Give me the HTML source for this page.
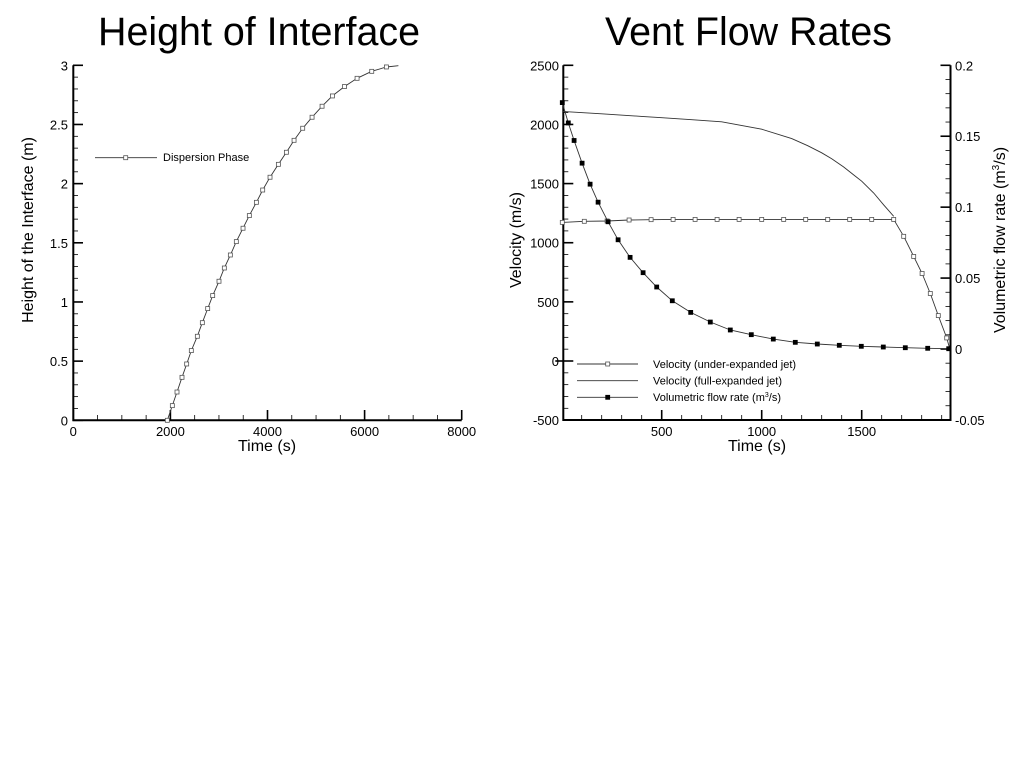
<!DOCTYPE html>
<html><head><meta charset="utf-8"><style>
body{margin:0;background:#fff;width:1024px;height:768px;overflow:hidden}
svg text{font-family:"Liberation Sans",Arial,sans-serif;fill:#000}
</style></head><body>
<svg id="s" width="1024" height="768" viewBox="0 0 1024 768">
<text x="98" y="45" font-size="40" textLength="322" lengthAdjust="spacingAndGlyphs">Height of Interface</text>
<text x="605" y="45" font-size="40" textLength="287" lengthAdjust="spacingAndGlyphs">Vent Flow Rates</text>
</svg>
<script>
// Left chart data
const hTimes=[1937,2040,2136,2239,2335,2431,2555,2658,2768,2871,3001,3111,3235,3358,3496,3626,3771,3901,4052,4224,4389,4547,4725,4918,5124,5337,5584,5845,6147,6449];
const hValues=[0,0.124,0.239,0.363,0.476,0.589,0.710,0.825,0.944,1.054,1.175,1.287,1.397,1.510,1.623,1.730,1.842,1.946,2.054,2.163,2.265,2.366,2.468,2.561,2.654,2.741,2.820,2.890,2.949,2.986];
const hEnd=[6696,2.997];
const hXTicks=[0,2000,4000,6000,8000];
const hYTicks=[0,0.5,1,1.5,2,2.5,3];
// Right chart data
const uTimes=[3,113,227,337,447,557,667,777,887,1000,1110,1220,1330,1440,1550,1660,1710,1760,1802,1843,1883,1925];
const uValues=[1172,1181,1184,1192,1195,1197,1197,1197,1197,1197,1197,1197,1197,1197,1197,1197,1054,884,740,571,384,195];
const fTimes=[3,200,400,500,650,800,1000,1150,1230,1300,1350,1410,1470,1500,1560,1610,1660];
const fValues=[2110,2090,2068,2057,2040,2022,1960,1880,1820,1760,1710,1640,1560,1520,1420,1320,1223];
const qTimes=[3,33,62,102,142,182,232,282,342,407,475,553,645,743,843,948,1058,1168,1278,1388,1498,1608,1718,1830,1935];
const qValues=[0.1737,0.1594,0.147,0.131,0.1162,0.1035,0.0897,0.077,0.0646,0.0538,0.0437,0.034,0.0258,0.019,0.0134,0.0101,0.007,0.0047,0.0035,0.0026,0.0019,0.0014,0.0009,0.0005,0.0002];
const rXTicks=[500,1000,1500];
const rYTicks=[-500,0,500,1000,1500,2000,2500];
const rY2Ticks=[-0.05,0,0.05,0.1,0.15,0.2];
const rY2Labels=["-0.05","0","0.05","0.1","0.15","0.2"];

const S=document.getElementById('s');
const M=4;
function el(tag,attrs,txt){const e=document.createElementNS('http://www.w3.org/2000/svg',tag);for(const k in attrs)e.setAttribute(k,attrs[k]);if(txt!==undefined)e.textContent=txt;S.appendChild(e);return e;}
function lin(d0,d1,p0,p1){return v=>p0+(v-d0)/(d1-d0)*(p1-p0);}
function path(xs,ys,fx,fy,name){let d='';xs.forEach((t,i)=>{d+=(i?'L':'M')+fx(t).toFixed(1)+' '+fy(ys[i]).toFixed(1);});const e=el('path',{d:d,fill:'none',stroke:'#333','stroke-width':0.9});

}
function markers(xs,ys,fx,fy,filled,name){xs.forEach((t,i)=>{const e=el('rect',{x:fx(t)-M/2,y:fy(ys[i])-M/2,width:M,height:M,fill:filled?'#000':'#fff',stroke:filled?'#000':'#555','stroke-width':0.8});

});}

// ---- Left chart
const lx=lin(0,8000,73.3,461.7), ly=lin(0,3,420.3,65.3);
const la=el('path',{d:'M73.3 65.3V420.3H461.7',fill:'none',stroke:'#000','stroke-width':2});


for(let v=0;v<=8000;v+=500){const big=v%2000===0;el('line',{x1:lx(v),x2:lx(v),y1:420,y2:420-(big?10:5),stroke:'#000','stroke-width':big?1.6:0.8});}
for(let k=0;k<=30;k++){const v=k/10,big=k%5===0;el('line',{x1:73,x2:73+(big?10:5),y1:ly(v),y2:ly(v),stroke:'#000','stroke-width':big?1.6:0.8});}
hXTicks.forEach(v=>{const t=el('text',{x:lx(v),y:436,'font-size':13,'text-anchor':'middle'},String(v));

});
hYTicks.forEach(v=>{const t=el('text',{x:68,y:ly(v)+5,'font-size':13,'text-anchor':'end'},String(v));

});
let t1=el('text',{x:267,y:451,'font-size':16,'text-anchor':'middle'},'Time (s)');


let t2=el('text',{x:0,y:0,'font-size':16,'text-anchor':'middle',transform:'translate(33,230) rotate(-90)'},'Height of the Interface (m)');


path(hTimes.concat([hEnd[0]]),hValues.concat([hEnd[1]]),lx,ly,'dispersion-phase-line');
markers(hTimes,hValues,lx,ly,false,'dispersion-phase-marker');
el('line',{x1:95,x2:157,y1:157.7,y2:157.7,stroke:'#333','stroke-width':0.9});
el('rect',{x:125.7-M/2,y:157.7-M/2,width:M,height:M,fill:'#fff',stroke:'#555','stroke-width':0.8});
let lg=el('text',{x:163,y:161,'font-size':11},'Dispersion Phase');



// ---- Right chart
const rx=lin(0,500,561.7,661.7), ry=lin(0,2500,361,65.3), ry2=lin(0,0.2,349,65.3);
const X0=563.3,X1=950.5,Y0=65.3,Y1=420;
const ra=el('path',{d:`M${X0} ${Y0}V${Y1}H${X1}V${Y0}`,fill:'none',stroke:'#000','stroke-width':2});


for(let v=100;v<=1900;v+=100){const big=v%500===0;el('line',{x1:rx(v),x2:rx(v),y1:Y1,y2:Y1-(big?10:5),stroke:'#000','stroke-width':big?1.6:0.8});}
for(let v=-500;v<=2500;v+=100){const big=v%500===0;el('line',{x1:X0,x2:X0+(big?10:5),y1:ry(v),y2:ry(v),stroke:'#000','stroke-width':big?1.6:0.8});
if(v===0)el('line',{x1:X0-8,x2:X0,y1:ry(v),y2:ry(v),stroke:'#000','stroke-width':1.6});}
for(let k=-5;k<=20;k++){const v=k/100,big=k%5===0;el('line',{x1:X1,x2:X1-(big?10:5),y1:ry2(v),y2:ry2(v),stroke:'#000','stroke-width':big?1.6:0.8});}
rXTicks.forEach(v=>{const t=el('text',{x:rx(v),y:436,'font-size':13,'text-anchor':'middle'},String(v));

});
rYTicks.forEach(v=>{const t=el('text',{x:559,y:ry(v)+5,'font-size':13,'text-anchor':'end'},String(v));

});
rY2Ticks.forEach((v,i)=>{const t=el('text',{x:955,y:ry2(v)+5,'font-size':13},rY2Labels[i]);

});
let t3=el('text',{x:757,y:451,'font-size':16,'text-anchor':'middle'},'Time (s)');


let t4=el('text',{x:0,y:0,'font-size':16,'text-anchor':'middle',transform:'translate(521,240) rotate(-90)'},'Velocity (m/s)');


let t5=el('text',{x:0,y:0,'font-size':16,'text-anchor':'middle',transform:'translate(1005,240) rotate(-90)'});
t5.innerHTML='Volumetric flow rate (m<tspan dy="-6" font-size="10">3</tspan><tspan dy="6">/s)</tspan>';


path(fTimes,fValues,rx,ry,'full-expanded-line');
path(uTimes.concat([1941]),uValues.concat([100]),rx,ry,'under-expanded-line');
markers(uTimes,uValues,rx,ry,false,'under-expanded-marker');
path(qTimes,qValues,rx,ry2,'flow-rate-line');
markers(qTimes,qValues,rx,ry2,true,'flow-rate-marker');
[364,380.7,397.3].forEach(y=>{el('line',{x1:577,x2:638,y1:y,y2:y,stroke:'#333','stroke-width':0.9});});
el('rect',{x:607.7-M/2,y:364-M/2,width:M,height:M,fill:'#fff',stroke:'#555','stroke-width':0.8});
el('rect',{x:607.7-M/2,y:397.3-M/2,width:M,height:M,fill:'#000',stroke:'#000','stroke-width':0.8});
let a=el('text',{x:653,y:368,'font-size':11},'Velocity (under-expanded jet)');


let b=el('text',{x:653,y:384.5,'font-size':11},'Velocity (full-expanded jet)');


let c=el('text',{x:653,y:401,'font-size':11});
c.innerHTML='Volumetric flow rate (m<tspan dy="-4" font-size="7">3</tspan><tspan dy="4">/s)</tspan>';


</script>
</body></html>
